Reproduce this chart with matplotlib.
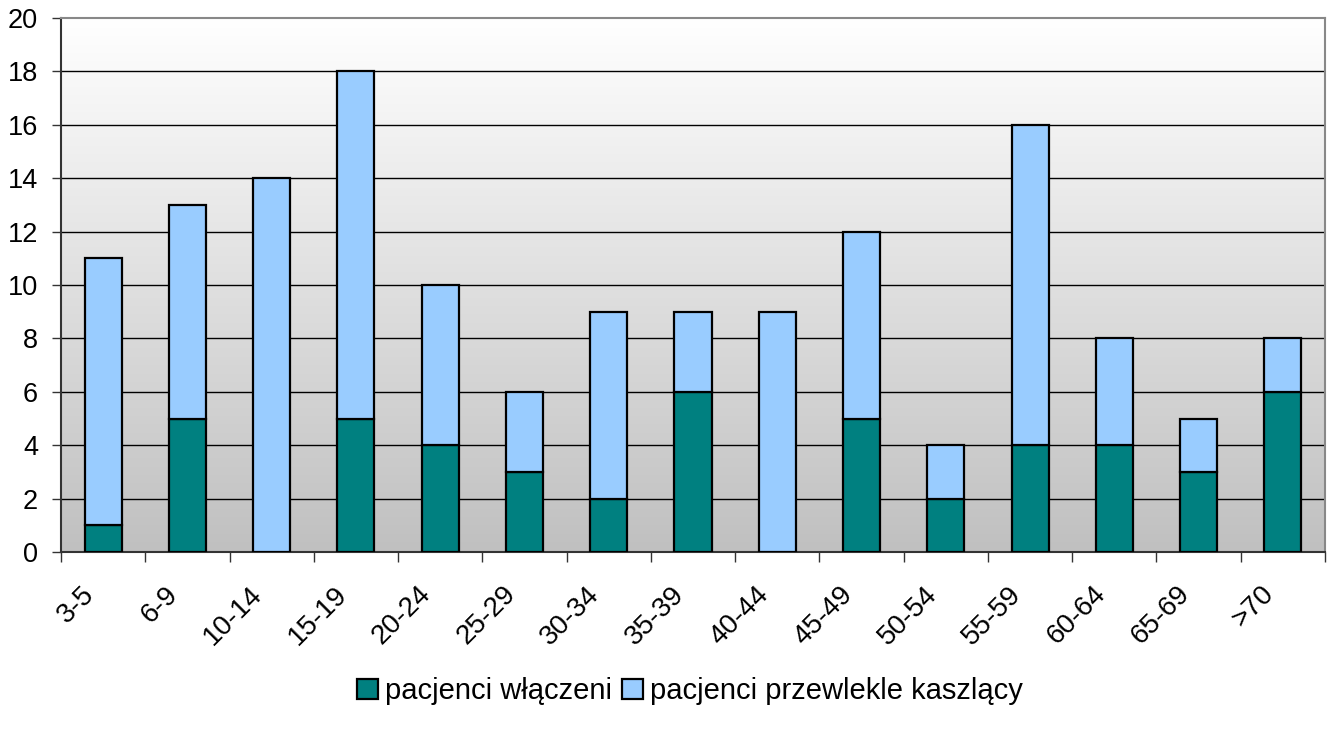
import matplotlib
matplotlib.use("Agg")
import matplotlib.pyplot as plt
import matplotlib.transforms as mtransforms
from matplotlib.colors import LinearSegmentedColormap
import numpy as np

categories = ["3-5", "6-9", "10-14", "15-19", "20-24", "25-29", "30-34", "35-39",
              "40-44", "45-49", "50-54", "55-59", "60-64", "65-69", ">70"]
wlaczeni = [1, 5, 0, 5, 4, 3, 2, 6, 0, 5, 2, 4, 4, 3, 6]
totals = [11, 13, 14, 18, 10, 6, 9, 9, 9, 12, 4, 16, 8, 5, 8]
kaszlacy = [t - w for t, w in zip(totals, wlaczeni)]
yticks = list(range(0, 21, 2))

plt.rcParams['font.family'] = ['Liberation Sans', 'DejaVu Sans']

fig = plt.figure(figsize=(13.34, 7.31), dpi=100)
ax = fig.add_axes([61/1334, 1-552/731, (1325-61)/1334, (552-18)/731])

n = len(categories)
x = np.arange(n)
ax.set_xlim(-0.5, n - 0.5)
ax.set_ylim(0, 20)

# gradient background
grad = np.linspace(0, 1, 256).reshape(-1, 1)
cmap = LinearSegmentedColormap.from_list("g", ["#C0C0C0", "#FFFFFF"])
ax.imshow(grad, extent=[-0.5, n - 0.5, 0, 20], origin="lower", aspect="auto",
          cmap=cmap, zorder=0)

for y in yticks[1:-1]:
    ax.axhline(y, color="black", lw=1.0, zorder=1)

bw = 0.44
ax.bar(x, wlaczeni, bw, color="#008080", edgecolor="black", linewidth=1.6,
       label="pacjenci włączeni", zorder=3)
ax.bar(x, kaszlacy, bw, bottom=wlaczeni, color="#99CCFF", edgecolor="black",
       linewidth=1.6, label="pacjenci przewlekle kaszlący", zorder=3)

ax.set_yticks(yticks)
ax.set_yticklabels([str(v) for v in yticks], fontsize=19.5)
ax.tick_params(axis="y", direction="out", length=6.5, width=1, color="#333333", pad=10)

ax.set_xticks(np.arange(-0.5, n, 1.0))
ax.set_xticklabels([])
ax.tick_params(axis="x", direction="out", length=7, width=1, color="#333333")

offset = mtransforms.ScaledTranslation(20/100, -29/100, fig.dpi_scale_trans)
for i, lab in enumerate(categories):
    ax.text(i - 0.5, 0, lab, rotation=45, ha="right", va="top",
            rotation_mode="anchor", fontsize=20,
            transform=ax.transData + offset)

for side in ["left", "bottom"]:
    ax.spines[side].set_color("#333333")
    ax.spines[side].set_linewidth(1.5)
for side in ["top", "right"]:
    ax.spines[side].set_color("#888888")
    ax.spines[side].set_linewidth(1.5)

fig.legend(loc="center", bbox_to_anchor=(690/1334, 1-691/731), ncol=2,
           frameon=False, fontsize=21, handlelength=0.7, handleheight=0.7,
           handletextpad=0.25, columnspacing=0.35)

fig.savefig("out.png", dpi=100)
